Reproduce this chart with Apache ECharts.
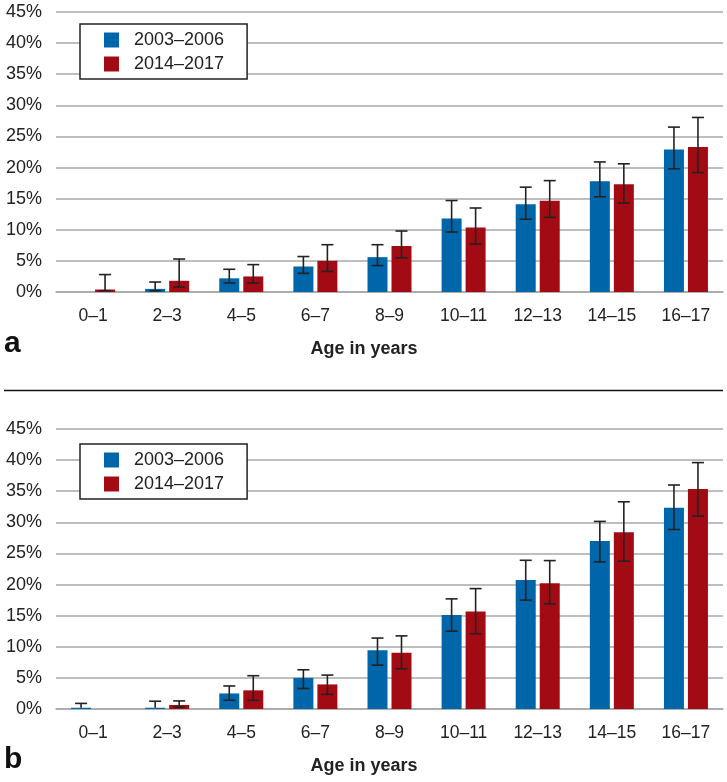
<!DOCTYPE html>
<html>
<head>
<meta charset="utf-8">
<script src="https://cdn.jsdelivr.net/npm/echarts@6/dist/echarts.min.js"></script>
<style>
html,body{margin:0;padding:0;background:#fff;}
#chart{width:727px;height:782px;}
</style>
</head>
<body>
<div id="chart"></div>
<script>
const categories = ['0–1','2–3','4–5','6–7','8–9','10–11','12–13','14–15','16–17'];
const seriesNames = ['2003–2006','2014–2017'];
const yTicks = [0,5,10,15,20,25,30,35,40,45];

// Panel a
const a2003 = [null, 0.5, 2.2, 4.1, 5.6, 11.8, 14.1, 17.8, 22.9];
const a2003Low = [null, 0.2, 1.45, 3.0, 4.25, 9.65, 11.7, 15.3, 19.8];
const a2003High = [null, 1.6, 3.65, 5.7, 7.6, 14.7, 16.85, 20.9, 26.5];
const a2017 = [0.4, 1.8, 2.5, 5.0, 7.4, 10.35, 14.65, 17.3, 23.3];
const a2017Low = [0.2, 0.8, 1.45, 3.3, 5.5, 7.7, 12.0, 14.3, 19.2];
const a2017High = [2.8, 5.3, 4.4, 7.6, 9.8, 13.5, 17.9, 20.6, 28.05];

// Panel b
const b2003 = [0.2, 0.2, 2.5, 5.0, 9.45, 15.1, 20.75, 27.0, 32.35];
const b2003Low = [null, null, 1.4, 3.3, 7.05, 12.5, 17.5, 23.65, 28.85];
const b2003High = [0.9, 1.25, 3.7, 6.3, 11.4, 17.7, 23.9, 30.15, 36.0];
const b2017 = [null, 0.65, 3.0, 3.95, 9.05, 15.65, 20.2, 28.4, 35.35];
const b2017Low = [null, 0.3, 1.4, 2.35, 6.45, 12.1, 16.9, 23.75, 31.0];
const b2017High = [null, 1.3, 5.35, 5.45, 11.75, 19.35, 23.85, 33.3, 39.6];

const BLUE = '#0066aa';
const RED = '#a30b14';
const FONT = '"Liberation Sans", Arial, sans-serif';
const TXT = '#222';

function errSeries(vals, lows, highs, offset, idx) {
  const data = categories.map((c, i) => {
    const hi = highs[i];
    if (hi == null) return null;
    const v = vals[i] == null ? 0 : vals[i];
    const hasLow = lows[i] != null ? 1 : 0;
    return [i, hasLow ? lows[i] : v, hi, hasLow];
  }).filter(d => d);
  return {
    type: 'custom',
    xAxisIndex: idx, yAxisIndex: idx,
    silent: true, z: 5,
    data: data,
    renderItem: function (params, api) {
      const i = api.value(0);
      const lo = api.value(1), hi = api.value(2), hasLow = api.value(3);
      const pHi = api.coord([i, hi]);
      const pLo = api.coord([i, lo]);
      const x = pHi[0] + offset;
      const cap = 6;
      const st = { stroke: '#222', lineWidth: 1.6 };
      const children = [
        { type: 'line', shape: { x1: x, y1: pHi[1], x2: x, y2: pLo[1] }, style: st },
        { type: 'line', shape: { x1: x - cap, y1: pHi[1], x2: x + cap, y2: pHi[1] }, style: st }
      ];
      if (hasLow) children.push({ type: 'line', shape: { x1: x - cap, y1: pLo[1], x2: x + cap, y2: pLo[1] }, style: st });
      return { type: 'group', children: children };
    }
  };
}

const grids = [
  { left: 56, right: 4, top: 12, height: 280 },
  { left: 56, right: 4, top: 429, height: 280 }
];

function xAx(idx) {
  return {
    type: 'category', gridIndex: idx, data: categories,
    axisLine: { show: true, lineStyle: { color: '#a8a8a8', width: 1.5 } },
    axisTick: { show: false },
    axisLabel: { color: TXT, fontFamily: FONT, fontSize: 17.5, margin: 15, interval: 0 },
    name: 'Age in years', nameLocation: 'middle', nameGap: 48,
    nameTextStyle: { color: TXT, fontFamily: FONT, fontSize: 18, fontWeight: 'bold', padding: [0, 51, 0, 0] }
  };
}
function yAx(idx) {
  return {
    type: 'value', gridIndex: idx, min: 0, max: 45, interval: 5,
    axisLine: { show: false }, axisTick: { show: false },
    axisLabel: { color: TXT, fontFamily: FONT, fontSize: 18, margin: 14, formatter: v => v + '%' },
    splitLine: { lineStyle: { color: '#a8a8a8', width: 1.5 } }
  };
}
function legend(top) {
  return {
    left: 80, top: top, orient: 'vertical',
    data: seriesNames,
    itemWidth: 15, itemHeight: 15, itemGap: 0,
    icon: 'rect',
    backgroundColor: '#fff', borderColor: '#222', borderWidth: 1.5, borderRadius: 0,
    padding: [4, 23, 3, 24],
    textStyle: { color: TXT, fontFamily: FONT, fontSize: 18, lineHeight: 24, padding: [0, 0, 0, 10] }
  };
}
function barS(name, vals, color, idx) {
  return {
    type: 'bar', name: name, xAxisIndex: idx, yAxisIndex: idx,
    data: vals, barWidth: 20, barGap: '20%',
    itemStyle: { color: color }, z: 2
  };
}

const option = {
  animation: false,
  backgroundColor: '#fff',
  grid: grids,
  xAxis: [xAx(0), xAx(1)],
  yAxis: [yAx(0), yAx(1)],
  legend: [legend(24), legend(444)],
  series: [
    barS(seriesNames[0], a2003, BLUE, 0),
    barS(seriesNames[1], a2017, RED, 0),
    barS(seriesNames[0], b2003, BLUE, 1),
    barS(seriesNames[1], b2017, RED, 1),
    errSeries(a2003, a2003Low, a2003High, -12, 0),
    errSeries(a2017, a2017Low, a2017High, 12, 0),
    errSeries(b2003, b2003Low, b2003High, -12, 1),
    errSeries(b2017, b2017Low, b2017High, 12, 1)
  ],
  graphic: [
    { type: 'text', left: 4, top: 329, style: { text: 'a', font: 'bold 30px ' + FONT, fill: '#111' } },
    { type: 'text', left: 4, top: 745, style: { text: 'b', font: 'bold 30px ' + FONT, fill: '#111' } },
    { type: 'line', shape: { x1: 4, y1: 390.5, x2: 723, y2: 390.5 }, style: { stroke: '#111', lineWidth: 1.5 } }
  ]
};

const chart = echarts.init(document.getElementById('chart'), null, { renderer: 'canvas' });
chart.setOption(option);
</script>
</body>
</html>
